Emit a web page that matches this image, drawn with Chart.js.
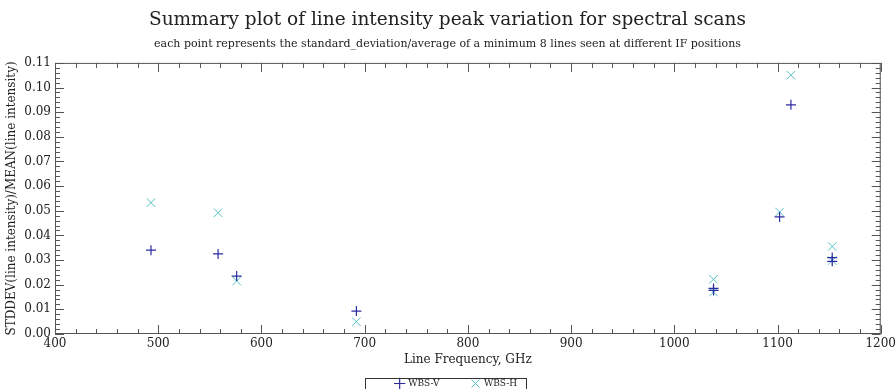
<!DOCTYPE html>
<html>
<head>
<meta charset="utf-8">
<script src="https://cdn.jsdelivr.net/npm/chart.js@4"></script>
<style>
  html, body { margin: 0; padding: 0; background: #fff; overflow: hidden; }
  #wrap { width: 896px; height: 389px; overflow: hidden; }
</style>
</head>
<body>
<div id="wrap"><canvas id="chart" width="899" height="398"></canvas></div>
<script>
// line frequency (GHz) and stddev/mean for each WBS polarisation
const freqV = [493, 558, 576, 692, 1038, 1038, 1102, 1113, 1153, 1153];
const valV  = [0.034, 0.0325, 0.0235, 0.0093, 0.0185, 0.0177, 0.0475, 0.093, 0.031, 0.0295];
const freqH = [493, 558, 576, 692, 1038, 1038, 1102, 1113, 1153, 1153];
const valH  = [0.0533, 0.0492, 0.0215, 0.005, 0.0222, 0.017, 0.0495, 0.105, 0.0355, 0.0298];

const xTicks = [400, 500, 600, 700, 800, 900, 1000, 1100, 1200];
const yTicks = [0, 0.01, 0.02, 0.03, 0.04, 0.05, 0.06, 0.07, 0.08, 0.09, 0.10, 0.11];

const serif = "'DejaVu Serif', serif";
const axisColor = '#555';

function toPoints(xs, ys) {
  return xs.map((x, i) => ({ x: x, y: ys[i] }));
}

// inward major/minor ticks on all four sides plus the frame
const frameTicks = {
  id: 'frameTicks',
  afterDatasetsDraw(chart) {
    const { ctx, chartArea: a, scales } = chart;
    const xs = scales.x, ys = scales.y;
    ctx.save();
    ctx.strokeStyle = axisColor;
    ctx.lineWidth = 1;
    ctx.strokeRect(a.left + 0.5, a.top + 0.5, a.right - a.left - 1, a.bottom - a.top - 1);
    ctx.beginPath();
    for (let v = 400; v <= 1200; v += 20) {
      const px = Math.round(xs.getPixelForValue(v)) + 0.5;
      const len = (v % 100 === 0) ? 9 : 5;
      ctx.moveTo(px, a.bottom); ctx.lineTo(px, a.bottom - len);
      ctx.moveTo(px, a.top); ctx.lineTo(px, a.top + len);
    }
    for (let k = 0; k <= 55; k++) {
      const py = Math.round(ys.getPixelForValue(k * 0.002)) + 0.5;
      const len = (k % 5 === 0) ? 9 : 5;
      ctx.moveTo(a.left, py); ctx.lineTo(a.left + len, py);
      ctx.moveTo(a.right, py); ctx.lineTo(a.right - len, py);
    }
    ctx.stroke();
    ctx.restore();
  }
};

// box around the legend
const legendBox = {
  id: 'legendBox',
  afterDraw(chart) {
    const boxes = chart.legend && chart.legend.legendHitBoxes;
    if (!boxes || !boxes.length) return;
    const first = boxes[0];
    const ctx = chart.ctx;
    ctx.save();
    ctx.strokeStyle = '#333';
    ctx.lineWidth = 1;
    ctx.strokeRect(Math.round(first.left - 31) + 0.5, Math.round(first.top - 1) + 0.5, 161, 30);
    ctx.restore();
  }
};

new Chart(document.getElementById('chart'), {
  type: 'scatter',
  data: {
    datasets: [
      {
        label: 'WBS-V',
        data: toPoints(freqV, valV),
        pointStyle: 'cross',
        pointRadius: 5,
        pointBorderWidth: 1.2,
        borderColor: '#2c2ca2',
        backgroundColor: '#2c2ca2'
      },
      {
        label: 'WBS-H',
        data: toPoints(freqH, valH),
        pointStyle: 'crossRot',
        pointRadius: 6,
        pointBorderWidth: 1,
        borderColor: '#56c2c6',
        backgroundColor: '#56c2c6'
      }
    ]
  },
  options: {
    responsive: false,
    animation: false,
    layout: { padding: { left: 12, right: 16, top: 6, bottom: 0 } },
    plugins: {
      title: {
        display: true,
        text: 'Summary plot of line intensity peak variation for spectral scans',
        color: '#222',
        font: { family: serif, size: 18.5, weight: 'normal' },
        padding: { top: 3, bottom: 6 }
      },
      subtitle: {
        display: true,
        text: 'each point represents the standard_deviation/average of a minimum 8 lines seen at different IF positions',
        color: '#222',
        font: { family: serif, size: 11 },
        padding: { top: 0, bottom: 12.5 }
      },
      legend: {
        position: 'bottom',
        fullSize: false,
        labels: {
          usePointStyle: true,
          color: '#222',
          font: { family: serif, size: 9 },
          boxWidth: 8,
          boxHeight: 8,
          padding: 12,
          // widen the gap between the two entries like the reference
          generateLabels: chart => {
            const items = Chart.defaults.plugins.legend.labels.generateLabels(chart);
            items[0].text = items[0].text + '       ';
            items[1].text = items[1].text + '        ';
            return items;
          }
        }
      },
      tooltip: { enabled: false }
    },
    scales: {
      x: {
        type: 'linear',
        min: 400,
        max: 1200,
        afterBuildTicks: s => { s.ticks = xTicks.map(v => ({ value: v })); },
        afterFit: s => { s.height = 33; },
        grid: { display: false, drawTicks: false },
        border: { display: false },
        ticks: {
          color: '#222',
          font: { family: serif, size: 12 },
          padding: 3,
          maxRotation: 0,
          callback: v => String(v)
        },
        title: {
          display: true,
          text: 'Line Frequency, GHz',
          color: '#222',
          font: { family: serif, size: 12 },
          padding: { top: 0, bottom: 0 }
        }
      },
      y: {
        min: 0,
        max: 0.11,
        afterBuildTicks: s => { s.ticks = yTicks.map(v => ({ value: v })); },
        afterFit: s => { s.width = 43; },
        grid: { display: false, drawTicks: false },
        border: { display: false },
        ticks: {
          color: '#222',
          font: { family: serif, size: 12 },
          padding: 4,
          callback: v => v.toFixed(2)
        },
        title: {
          display: true,
          text: 'STDDEV(line intensity)/MEAN(line intensity)',
          color: '#222',
          font: { family: serif, size: 12 },
          padding: { top: -7, bottom: 0 }
        }
      }
    }
  },
  plugins: [frameTicks, legendBox]
});
</script>
</body>
</html>
